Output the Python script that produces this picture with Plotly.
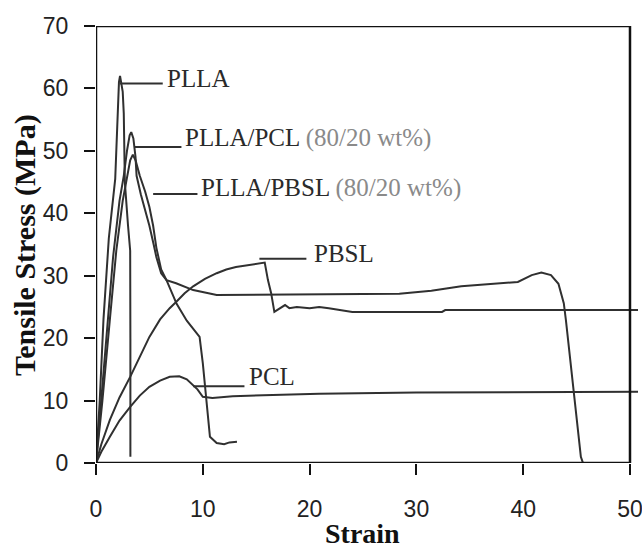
import plotly.graph_objects as go

# ---- data (strain, stress in MPa) ----
plla_x = [0, 0.35, 0.7, 1.2, 1.8, 2.0, 2.15, 2.25, 2.5, 2.6, 2.65, 2.7, 3.0, 3.2, 3.22, 3.22]
plla_y = [0, 10, 23, 36, 45.5, 55, 61, 62, 59.5, 56, 50, 45, 38, 34, 20, 1]

pcl_blend_x = [0, 0.5, 1.0, 1.6, 2.2, 2.6, 2.9, 3.15, 3.3, 3.5, 3.7, 3.8, 4.2, 4.6, 5.0, 5.4, 5.65,
               6.1, 6.6, 7.5, 9.1, 11.3, 20.9, 23.4, 28.4, 31.4, 34.2, 39.5, 40.8, 41.7, 42.6,
               43.3, 43.8, 44.0, 44.5, 44.9, 45.4, 45.6]
pcl_blend_y = [0, 10, 21, 33, 42, 46, 50, 52.5, 53, 52, 49, 46, 43, 40.5, 38, 35, 33,
               30.4, 29.3, 28.8, 27.7, 26.9, 27.0, 27.0, 27.1, 27.6, 28.3, 29.0, 30.1, 30.5, 30.1,
               28.7, 25.6, 22.9, 14.9, 9.6, 1.0, 0]

pbsl_blend_x = [0, 0.6, 1.3, 1.9, 2.5, 2.9, 3.2, 3.45, 3.7, 4.1, 4.6, 5.0, 5.35, 5.65, 6.1, 6.6,
                7.55, 8.5, 9.5, 9.7, 10.0, 10.35, 10.67, 11.3, 12.0, 12.5, 13.2]
pbsl_blend_y = [0, 10, 23, 34, 42, 46, 48.5, 49.4, 48.5, 46, 43.5, 41, 38, 34.5, 31, 29.3,
                25.5, 22.8, 20.5, 20.2, 16.0, 9.6, 4.2, 3.2, 3.0, 3.3, 3.4]

pbsl_x = [0, 0.5, 1.3, 2.2, 3.2, 4.1, 5.0, 6.0, 6.9, 7.5, 8.3, 9.1, 10.2, 11.3, 12.2, 13.1, 14.5,
          15.8, 16.1, 16.4, 16.7, 17.2, 17.7, 18.1, 18.8, 20.0, 20.9, 21.8, 24.0, 32.4, 32.7, 50.75]
pbsl_y = [0, 3, 6.9, 10.5, 13.8, 17, 20.2, 23, 24.8, 25.8, 27.2, 28.3, 29.5, 30.4, 31, 31.4, 31.8,
          32.1, 29.3, 27.2, 24.2, 24.8, 25.3, 24.8, 25.0, 24.8, 25.0, 24.8, 24.2, 24.2, 24.5, 24.5]

pcl_x = [0, 0.5, 1.3, 2.2, 3.2, 4.1, 5.0, 6.0, 6.9, 7.8, 8.5, 9.1, 9.5, 10.0, 10.9, 12.8, 16.9,
         20.9, 30, 50.75]
pcl_y = [0, 1.8, 4.2, 6.8, 9.0, 10.8, 12.2, 13.2, 13.8, 13.9, 13.4, 12.5, 11.8, 10.6, 10.4, 10.7, 10.9,
         11.1, 11.3, 11.4]

# label leader lines: (x_start, x_end, y) and text anchor (x, y)
label_texts = ["PLLA", "PLLA/PCL (80/20 wt%)", "PLLA/PBSL (80/20 wt%)", "PBSL", "PCL"]
leader_x0 = [2.24, 3.64, 5.35, 15.3, 9.1]
leader_x1 = [6.25, 8.0, 9.5, 19.7, 13.9]
leader_y = [60.8, 50.6, 43.1, 32.7, 12.3]
text_x = [6.46, 8.15, 9.64, 20.2, 14.1]
text_y = [61.6, 52.1, 44.0, 33.5, 13.9]

x_ticks = [0, 10, 20, 30, 40, 50]
y_ticks = [0, 10, 20, 30, 40, 50, 60, 70]

x_title = "Strain"
y_title = "Tensile Stress (MPa)"

LINE = "#303030"
SERIF = "Liberation Serif, Times New Roman, serif"

fig = go.Figure()
for xs, ys, name in [(plla_x, plla_y, "PLLA"), (pcl_blend_x, pcl_blend_y, "PLLA/PCL"),
                     (pbsl_blend_x, pbsl_blend_y, "PLLA/PBSL"), (pbsl_x, pbsl_y, "PBSL"),
                     (pcl_x, pcl_y, "PCL")]:
    fig.add_trace(go.Scatter(x=xs, y=ys, mode="lines", name=name,
                             line=dict(color=LINE, width=2), showlegend=False))

for x0, x1, y in zip(leader_x0, leader_x1, leader_y):
    fig.add_trace(go.Scatter(x=[x0, x1], y=[y, y], mode="lines",
                             line=dict(color=LINE, width=2), showlegend=False))

for t, x, y in zip(label_texts, text_x, text_y):
    if "(" in t:
        main, rest = t.split(" (", 1)
        txt = main + ' <span style="color:#8a8a8a">(' + rest + "</span>"
    else:
        txt = t
    fig.add_annotation(x=x, y=y, text=txt, showarrow=False, xanchor="left", yanchor="middle",
                       font=dict(family=SERIF, size=25, color="#2a2a2a"))

# axis titles
fig.add_annotation(xref="paper", yref="paper", x=(362 - 96) / 542, y=-(516 - 463) / 437,
                   text="<b>" + x_title + "</b>", showarrow=False, xanchor="center", yanchor="top",
                   font=dict(family=SERIF, size=28, color="#111111"))
fig.add_annotation(xref="paper", yref="paper", x=-(96 - 25) / 542, y=(463 - 245) / 437,
                   text="<b>" + y_title + "</b>", showarrow=False, textangle=-90,
                   xanchor="center", yanchor="middle",
                   font=dict(family=SERIF, size=30, color="#111111"))

# frame
fig.add_shape(type="rect", xref="x", yref="y", x0=0, x1=50, y0=0, y1=70,
              line=dict(color="#111111", width=2.5), layer="above")

tickfont = dict(family="Liberation Sans, Arial, sans-serif", size=23, color="#222222")

fig.update_layout(
    width=642, height=550,
    margin=dict(l=96, r=4, t=26, b=87, autoexpand=False),
    paper_bgcolor="white", plot_bgcolor="white",
    xaxis=dict(range=[0, 50.75], tickvals=x_ticks, ticks="outside", ticklen=11, tickwidth=2,
               tickcolor="#111111", showgrid=False, zeroline=False, showline=False,
               tickfont=tickfont, ticklabelstandoff=14, ticklabeloverflow="allow"),
    yaxis=dict(range=[0, 70], tickvals=y_ticks, ticks="outside", ticklen=11, tickwidth=2,
               tickcolor="#111111", showgrid=False, zeroline=False, showline=False,
               tickfont=tickfont, ticklabelstandoff=11, ticklabeloverflow="allow"),
)

fig.write_html("out.html")
